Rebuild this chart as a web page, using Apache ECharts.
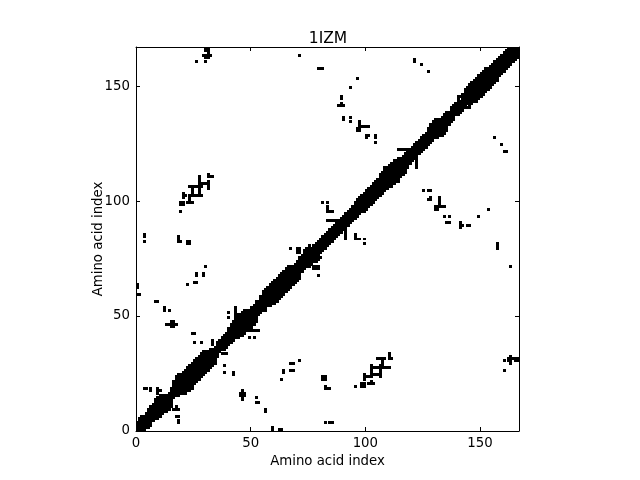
<!DOCTYPE html>
<html><head><meta charset="utf-8">
<style>html,body{margin:0;padding:0;background:#fff}#c{width:640px;height:480px}</style>
<script src="https://cdn.jsdelivr.net/npm/echarts@6/dist/echarts.min.js"></script>
</head><body><div id="c"></div>
<script>
const titleText = '1IZM';
const axisName = 'Amino acid index';
const tickValues = [0, 50, 100, 150];
const axisMax = 167;
// contact reach from the main diagonal, one value per residue
const bandReach = [
 3,4,4,3,3,4,4,4,5,5, 5,4,3,2,2,3,5,6,6,5,
 5,5,5,5,5,5,5,5,5,5, 4,3,3,2,2,3,3,3,3,3,
 4,5,5,10,6,5,5,5,4,3, 3,3,4,3,4,5,5,5,5,5,
 5,5,5,5,5,5,5,4,3,3, 3,4,4,5,5,5,3,3,3,3,
 3,3,3,3,3,3,3,3,3,3, 3,3,3,3,3,4,4,4,4,4,
 4,4,4,4,4,4,5,5,6,5, 5,5,5,4,4,3,3,3,3,3,
 3,3,3,3,3,3,3,4,5,5, 5,4,3,3,3,3,2,3,3,3,
 3,2,4,5,5,5,5,5,5,5, 5,5,5,4,4,4,4,4,4,4,
 4,4,5,4,3,2,1,0
];
// off-diagonal contacts: [residue a, first partner, last partner], mirrored across the diagonal
const contacts = [
 [0,59,59],[1,59,59],[0,62,63],[3,18,18],[4,18,18],[6,17,18],[9,16,18],[10,17,17],
 [3,82,82],[3,84,85],[18,82,84],[19,82,82],[22,81,82],[23,81,82],
 [8,56,56],[9,56,56],[12,52,53],[14,52,52],[13,46,46],[14,46,46],[15,45,47],[16,45,47],[17,46,46],
 [24,42,42],[25,42,42],[25,38,38],[28,38,38],[33,37,39],
 [22,63,63],[25,64,64],[26,64,64],[26,67,68],[29,67,68],[30,71,71],
 [19,95,95],[19,98,99],[20,98,99],[20,101,103],[21,102,102],[22,99,99],[23,99,102],[24,99,99],
 [24,102,106],[25,102,102],[26,102,102],[23,106,106],[25,106,106],[26,106,106],[27,102,110],
 [28,102,102],[28,106,107],[29,107,107],[30,107,107],[31,105,108],[31,110,111],[32,110,110],[33,110,110],
 [26,160,160],[30,160,160],[29,163,163],[30,162,163],[31,162,164],[32,163,163],[30,165,166],[31,165,166],
 [40,49,49],[40,51,51],[43,44,53],[47,48,52],
 [67,79,79],[70,77,79],[71,77,79],[71,163,163],[79,157,157],[80,157,157],[81,157,157],
 [81,99,99],[83,99,99],[83,95,97],[84,95,95],[85,95,95],[83,91,91],[84,91,91],[85,91,91],[86,91,91],[87,91,91],[88,91,91],
 [88,141,141],[89,141,142],[90,141,141],[89,144,145],[90,135,136],[93,134,134],[93,136,136],[93,149,149],[96,153,153],
 [96,130,131],[97,130,134],[98,132,132],[99,132,132],[100,132,132],[101,132,132],[100,127,128],[101,128,128],
 [104,127,128],[104,125,125],
 [108,113,114],[114,122,122],[115,122,122],[116,122,122],[117,122,122],[118,122,122],[119,122,122],
 [121,160,161],[124,159,159],[127,156,156],
 [140,144,145],[141,145,145],[142,145,145]
];

const cells = [];
bandReach.forEach((r, i) => {
  for (let j = i; j <= Math.min(i + r, axisMax); j++) { cells.push([i, j]); cells.push([j, i]); }
});
contacts.forEach(([a, b1, b2]) => {
  for (let b = b1; b <= b2; b++) { cells.push([a, b]); cells.push([b, a]); }
});

const font = 'DejaVu Sans';
function axis(pos, showLabels, name) {
  return {
    type: 'value', position: pos, min: 0, max: axisMax,
    name: name, nameLocation: 'middle', nameGap: pos === 'bottom' ? 24 : 31, nameMoveOverlap: false,
    nameTextStyle: {fontFamily: font, fontSize: 13.3, color: '#000'},
    splitLine: {show: false},
    axisLine: {show: true, onZero: false, lineStyle: {color: '#000', width: 1}},
    axisTick: {show: true, inside: true, length: 4, customValues: tickValues, lineStyle: {color: '#000', width: 1}},
    axisLabel: {show: showLabels, customValues: tickValues, margin: 6, fontFamily: font, fontSize: 13.3, color: '#000',
      padding: pos === 'left' ? [2, 0, 0, 0] : 0}
  };
}
const chart = echarts.init(document.getElementById('c'), null, {renderer: 'canvas'});
chart.setOption({
  animation: false,
  backgroundColor: '#fff',
  title: {text: titleText, left: 323, top: 26, textAlign: 'center',
    textStyle: {fontFamily: font, fontSize: 15.5, fontWeight: 'normal', color: '#000'}},
  grid: {left: 136, top: 47, width: 383, height: 384},
  xAxis: [axis('bottom', true, axisName), axis('top', false, '')],
  yAxis: [axis('left', true, axisName), axis('right', false, '')],
  series: [{
    type: 'custom', coordinateSystem: 'cartesian2d', clip: true, silent: true,
    encode: {x: 0, y: 1},
    data: cells,
    renderItem(params, api) {
      const x = api.value(0), y = api.value(1), pad = 0.35;
      const p0 = api.coord([x, y + 1]), p1 = api.coord([x + 1, y]);
      const l = Math.round(p0[0] - pad), t = Math.round(p0[1] - pad), r = Math.round(p1[0] + pad), b = Math.round(p1[1] + pad);
      return {type: 'rect', shape: {x: l, y: t, width: r - l, height: b - t},
              style: {fill: '#000', stroke: null}};
    }
  }]
});
</script></body></html>
